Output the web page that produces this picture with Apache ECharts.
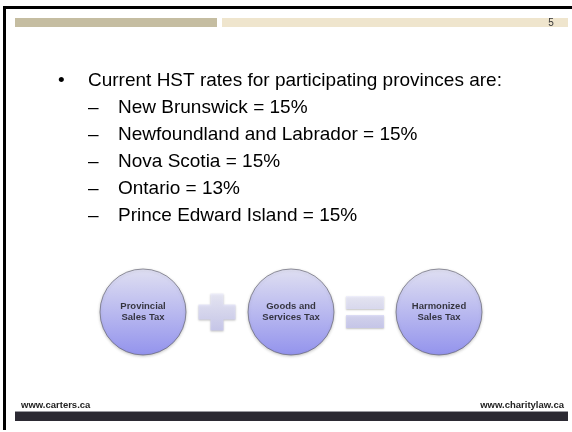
<!DOCTYPE html>
<html>
<head>
<meta charset="utf-8">
<script src="https://cdn.jsdelivr.net/npm/echarts@6/dist/echarts.min.js"></script>
<style>
  html, body { margin: 0; padding: 0; background: #fff; }
  #main { width: 572px; height: 432px; }
</style>
</head>
<body>
<div id="main"></div>
<script>
// slide 5 - HST rates
const headline = 'Current HST rates for participating provinces are:'
const provinces = ['New Brunswick', 'Newfoundland and Labrador', 'Nova Scotia', 'Ontario', 'Prince Edward Island']
const rates = [15, 15, 15, 13, 15]
// equation row: term + term = term
const steps = ['Provincial\nSales Tax', '+', 'Goods and\nServices Tax', '=', 'Harmonized\nSales Tax']
const pageNo = '5'
const footerLeft = 'www.carters.ca'
const footerRight = 'www.charitylaw.ca'

const chart = echarts.init(document.getElementById('main'), null, { renderer: 'canvas' })

const FONT = '"Liberation Sans", Arial, sans-serif'

let textEls = []
textEls.push({ type: 'text', style: { text: '•', x: 58, y: 81, font: '19px ' + FONT, fill: '#000', verticalAlign: 'middle' } })
textEls.push({ type: 'text', style: { text: headline, x: 88, y: 81, font: '19px ' + FONT, fill: '#000', verticalAlign: 'middle' } })
provinces.forEach((p, i) => {
  let y = 108 + i * 27
  textEls.push({ type: 'text', style: { text: '–', x: 88, y: y, font: '19px ' + FONT, fill: '#000', verticalAlign: 'middle' } })
  textEls.push({ type: 'text', style: { text: `${p} = ${rates[i]}%`, x: 118, y: y, font: '19px ' + FONT, fill: '#000', verticalAlign: 'middle' } })
})

const termData = [], opData = []
steps.forEach((s, i) => {
  if (s === '+' || s === '=') opData.push({ value: [i, 0], name: s })
  else termData.push({ value: [i, 0], name: s })
})

const opShape = {
  '+': 'path://M12,0 H25 V11 H37 V26 H25 V37 H12 V26 H0 V11 H12 Z',
  '=': 'path://M0,0 H38 V13 H0 Z M0,19 H38 V32 H0 Z'
}

chart.setOption({
  backgroundColor: '#fff',
  animation: false,
  grid: { left: 106, width: 370, top: 262, height: 100 },
  xAxis: { type: 'category', data: steps, show: false },
  yAxis: { type: 'value', min: -1, max: 1, show: false },
  series: [{
    name: 'terms',
    type: 'scatter',
    symbol: 'circle',
    symbolSize: 86,
    data: termData,
    itemStyle: {
      color: {
        type: 'linear', x: 0, y: 0, x2: 0, y2: 1,
        colorStops: [{ offset: 0, color: '#e4e4fb' }, { offset: 1, color: '#8585f5' }]
      },
      borderColor: '#5a5a66',
      borderWidth: 0.8,
      shadowColor: 'rgba(0,0,0,0.25)',
      shadowBlur: 3,
      shadowOffsetY: 1
    },
    label: {
      show: true,
      position: 'inside',
      formatter: p => p.name,
      fontFamily: FONT,
      fontWeight: 'bold',
      fontSize: 9.5,
      lineHeight: 10.5,
      color: '#111'
    }
  }, {
    name: 'operators',
    type: 'scatter',
    data: opData.map(d => ({
      value: d.value,
      name: d.name,
      symbol: opShape[d.name],
      symbolSize: d.name === '+' ? [37, 37] : [38, 32]
    })),
    itemStyle: {
      color: {
        type: 'linear', x: 0, y: 0, x2: 0, y2: 1,
        colorStops: [{ offset: 0, color: '#ededfc' }, { offset: 1, color: '#c6c6f1' }]
      },
      shadowColor: 'rgba(0,0,0,0.3)',
      shadowBlur: 2,
      shadowOffsetY: 1
    }
  }],
  graphic: [
    // frame edges
    { type: 'rect', shape: { x: 3, y: 6, width: 569, height: 3 }, style: { fill: '#000' } },
    { type: 'rect', shape: { x: 3, y: 6, width: 3, height: 424 }, style: { fill: '#000' } },
    // header bars
    { type: 'rect', shape: { x: 15, y: 18, width: 202, height: 9 }, style: { fill: '#c5bda1' } },
    { type: 'rect', shape: { x: 222, y: 18, width: 346, height: 9 }, style: { fill: '#efe5cd' } },
    { type: 'text', style: { text: pageNo, x: 551, y: 23, font: '10px ' + FONT, fill: '#333', align: 'center', verticalAlign: 'middle' } },
    // footer
    { type: 'text', style: { text: footerLeft, x: 21, y: 405, font: 'bold 9.5px ' + FONT, fill: '#222', verticalAlign: 'middle' } },
    { type: 'text', style: { text: footerRight, x: 564, y: 405, font: 'bold 9.5px ' + FONT, fill: '#222', align: 'right', verticalAlign: 'middle' } },
    { type: 'rect', shape: { x: 15, y: 411, width: 553, height: 1 }, style: { fill: '#9a9aa0' } },
    { type: 'rect', shape: { x: 15, y: 412, width: 553, height: 9 }, style: { fill: '#2c2a33' } }
  ].concat(textEls)
})
</script>
</body>
</html>
